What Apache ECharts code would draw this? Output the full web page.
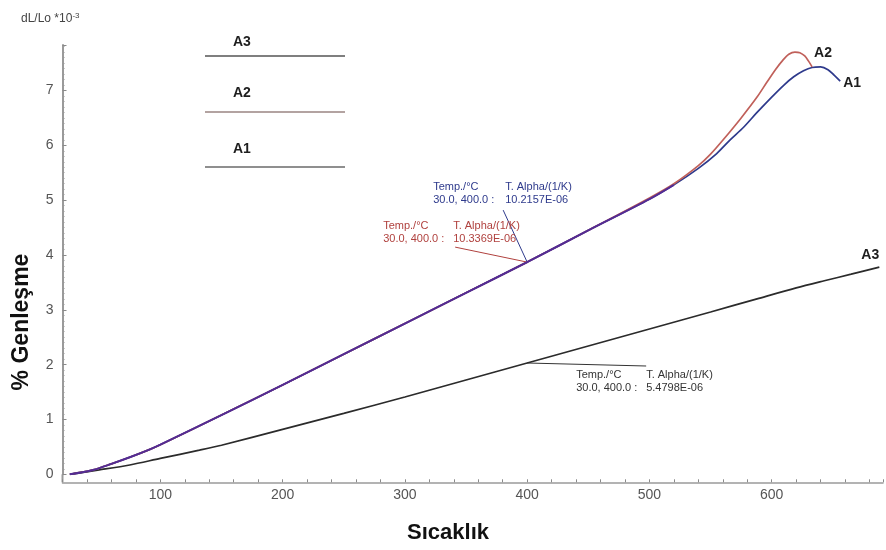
<!DOCTYPE html>
<html><head><meta charset="utf-8">
<script src="https://cdn.jsdelivr.net/npm/echarts@6/dist/echarts.min.js"></script>
<style>html,body{margin:0;padding:0;background:#fff}#c{width:886px;height:550px}</style>
</head><body><div id="c"></div>
<script>
// ---- data ----
const seriesNames = ['A1', 'A2', 'A3'];
const a1Temps  = [26,45,60,75,91,100,150,200,250,300,350,400,450,500,520,540,555,566,577,588,600,610,618,626,633,640,646,651,656];
const a1Values = [0,0.08,0.19,0.31,0.45,0.54,1.08,1.63,2.19,2.75,3.31,3.87,4.45,5.02,5.28,5.58,5.85,6.1,6.33,6.6,6.88,7.1,7.25,7.36,7.42,7.43,7.38,7.28,7.17];
const a2Temps  = [26,45,60,75,91,100,150,200,250,300,350,400,450,500,520,540,550,561,575,588,596,603,609,614,619,623,627,630,633];
const a2Values = [0,0.08,0.19,0.31,0.45,0.54,1.08,1.63,2.19,2.75,3.31,3.87,4.45,5.04,5.3,5.63,5.84,6.12,6.5,6.88,7.15,7.38,7.55,7.66,7.70,7.69,7.63,7.54,7.43];
const a3Temps  = [26,50,75,100,132,150,200,250,300,350,400,450,500,550,588,620,643,665,688];
const a3Values = [0,0.08,0.17,0.29,0.44,0.53,0.82,1.11,1.41,1.72,2.03,2.34,2.65,2.96,3.2,3.4,3.53,3.65,3.78];
const sharedUntil = 520; // A1 and A2 overlap up to this temperature
const xTickLabels = [100, 200, 300, 400, 500, 600];
const yTickLabels = [0, 1, 2, 3, 4, 5, 6, 7];
const annoRange = '30.0, 400.0 :';
const annoTemp = 400;
const annoAlpha = { A1: '10.2157E-06', A2: '10.3369E-06', A3: '5.4798E-06' };
const xName = 'Sıcaklık';
const yName = '% Genleşme';

// ---- styles ----
const BLUE = '#2e3a8c', RED = '#c0605a', PURPLE = '#532c94', BLACK = '#2b2b2b';
const FONT = 'Liberation Sans, Arial, sans-serif';
const zip = (t, v) => t.map((x, i) => [x, v[i]]);

const chart = echarts.init(document.getElementById('c'), null, { renderer: 'canvas' });

function lineSeries(name, data, color, labelPos, z, width) {
  const s = {
    type: 'line', name, data, showSymbol: false, symbol: 'none',
    smooth: 0.3,
    lineStyle: { width: width || 1.7, color }, itemStyle: { color },
    z: z, animation: false
  };
  if (labelPos) s.endLabel = Object.assign({ show: true, formatter: name, fontFamily: FONT, fontWeight: 'bold', fontSize: 14, color: '#1e1e1e' }, labelPos);
  return s;
}
const sharedData = zip(a1Temps, a1Values).filter(d => d[0] <= sharedUntil);

chart.setOption({
  animation: false,
  grid: { left: 62.5, right: 0, top: 45, bottom: 75.7, containLabel: false },
  xAxis: {
    type: 'value', min: 20, max: 691, interval: 20, offset: 8,
    axisLine: { onZero: false, lineStyle: { color: '#9a9a9a', width: 1.5 } },
    axisTick: { inside: true, length: 3, lineStyle: { color: '#8a8a8a' } },
    axisLabel: { interval: 0, margin: 6, fontSize: 14, color: '#555', fontFamily: FONT,
      formatter: v => xTickLabels.indexOf(Math.round(v)) >= 0 ? String(Math.round(v)) : '' },
    splitLine: { show: false }
  },
  yAxis: {
    type: 'value', min: 0, max: 7.83, interval: 1,
    axisLine: { show: true, lineStyle: { color: '#9a9a9a', width: 2 } },
    axisTick: { show: true, inside: true, length: 4, lineStyle: { color: '#8a8a8a' } },
    minorTick: { show: true, splitNumber: 10, length: 2, lineStyle: { color: '#9a9a9a' } },
    axisLabel: { margin: 9, fontSize: 14, color: '#555', fontFamily: FONT, showMaxLabel: false,
      formatter: v => yTickLabels.indexOf(Math.round(v * 100) / 100) >= 0 ? String(v) : '' },
    splitLine: { show: false }
  },
  series: [
    lineSeries('A1', zip(a1Temps, a1Values), BLUE, { distance: 3, offset: [0, 2] }, 3, 1.7),
    lineSeries('A2', zip(a2Temps, a2Values), RED, { distance: 2, offset: [0, -14] }, 4, 1.7),
    lineSeries('A3', zip(a3Temps, a3Values), BLACK, { distance: 2, offset: [-20, -12] }, 3, 1.7),
    lineSeries('A1/A2', sharedData, PURPLE, null, 5, 2)
  ]
});

// ---- annotations / decorations ----
function valAt(temps, vals, t) { return vals[temps.indexOf(t)]; }
const pBlue = chart.convertToPixel({ gridIndex: 0 }, [annoTemp, valAt(a1Temps, a1Values, annoTemp)]);
const pRed  = chart.convertToPixel({ gridIndex: 0 }, [annoTemp, valAt(a2Temps, a2Values, annoTemp)]);
const pBlk  = chart.convertToPixel({ gridIndex: 0 }, [annoTemp, valAt(a3Temps, a3Values, annoTemp)]);
const origin = chart.convertToPixel({ gridIndex: 0 }, [20, 0]);

function txt(x, y, text, color, size, weight, extra) {
  return Object.assign({ type: 'text', x, y, silent: true,
    style: { text, fill: color, font: (weight || 'normal') + ' ' + size + 'px ' + FONT, textVerticalAlign: 'middle' } }, extra || {});
}
function ln(x1, y1, x2, y2, color, w) {
  return { type: 'line', silent: true, shape: { x1, y1, x2, y2 }, style: { stroke: color, lineWidth: w || 1 } };
}
function anno(p, c1, c2, l1, l2, start, color, key) {
  return [
    txt(p[0] + c1, p[1] + l1, 'Temp./°C', color, 11),
    txt(p[0] + c2, p[1] + l1, 'T. Alpha/(1/K)', color, 11),
    txt(p[0] + c1, p[1] + l2, annoRange, color, 11),
    txt(p[0] + c2, p[1] + l2, annoAlpha[key], color, 11),
    ln(p[0] + start[0], p[1] + start[1], p[0], p[1], color, 1)
  ];
}

const legendItems = [
  { name: 'A3', y: 42, ly: 56, color: '#555' },
  { name: 'A2', y: 93, ly: 112, color: '#9a8582' },
  { name: 'A1', y: 149, ly: 167, color: '#6a6a6a' }
];
const g = [];
legendItems.forEach(it => {
  g.push(txt(233, it.y, it.name, '#1e1e1e', 14, 'bold'));
  g.push(ln(205, it.ly, 345, it.ly, it.color, 1.5));
});
g.push(...anno(pBlue, -94, -22, -75, -62, [-24, -52], BLUE, 'A1'));
g.push(...anno(pRed, -144, -74, -36, -23, [-72, -15], '#b0413e', 'A2'));
g.push(...anno(pBlk, 49, 119, 12, 25, [119, 3], '#333333', 'A3'));
// y axis line extension down to the offset x axis
g.push(ln(origin[0], origin[1], origin[0], origin[1] + 8, '#9a9a9a', 2));
// axis titles
g.push({ type: 'text', x: 21, y: 19, silent: true,
  style: { text: '{a|dL/Lo *10}{s|-3}', textVerticalAlign: 'middle',
    rich: { a: { fontSize: 12, fontFamily: FONT, fill: '#444', color: '#444' },
            s: { fontSize: 8, fontFamily: FONT, fill: '#444', color: '#444', verticalAlign: 'top', padding: [0, 0, 6, 0] } } } });
g.push({ type: 'text', x: 448, y: 533, silent: true,
  style: { text: xName, fill: '#111', font: 'bold 22px ' + FONT, textAlign: 'center', textVerticalAlign: 'middle' } });
g.push({ type: 'text', x: 22, y: 322, rotation: Math.PI / 2, silent: true,
  style: { text: yName, fill: '#111', font: 'bold 23px ' + FONT, textAlign: 'center', textVerticalAlign: 'middle' } });

chart.setOption({ graphic: { elements: g } });
</script>
</body></html>
